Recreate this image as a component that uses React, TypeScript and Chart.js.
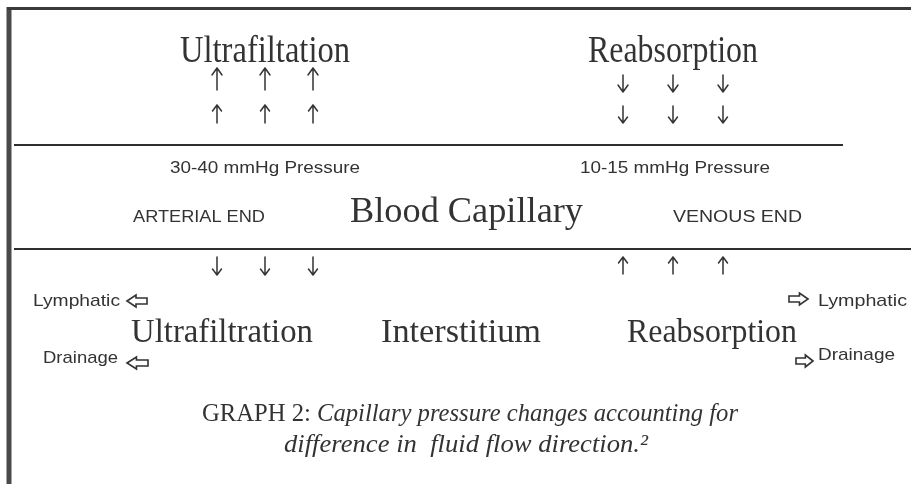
import React, { useEffect, useRef } from "react";
import Chart from "chart.js/auto";

// ---- content (values / texts) ----
const topHeadings = ["Ultrafiltation", "Reabsorption"];
const capillaryTitle = "Blood Capillary";
const pressureLabels = ["30-40 mmHg Pressure", "10-15 mmHg Pressure"];
const endLabels = ["ARTERIAL END", "VENOUS END"];
const bottomHeadings = ["Ultrafiltration", "Interstitium", "Reabsorption"];
const sideLabels = ["Lymphatic", "Drainage"];
const captionLead = "GRAPH 2: ";
const captionLine1 = "Capillary pressure changes accounting for";
const captionLine2 = "difference in  fluid flow direction.\u00B2";

// arrow columns (data-space x)
const arterialCols = [217, 265, 313];
const venousCols = [623, 673, 723];

// rules of the diagram (data-space)
const upperRule = [
  { x: 14, y: 145 },
  { x: 843, y: 145 },
];
const lowerRule = [
  { x: 14, y: 249 },
  { x: 911, y: 249 },
];
const topFrame = [
  { x: 7, y: 8.5 },
  { x: 911, y: 8.5 },
];
const leftFrame = [
  { x: 9, y: 7 },
  { x: 9, y: 484 },
];

// ---- layout ----
const SERIF = '"Liberation Serif", "Times New Roman", serif';
const SANS = '"Liberation Sans", Arial, sans-serif';
const INK = "#333333";

type Box = { x0: number; x1: number; base: number; size: number; fam: string; italic?: boolean };

const L = {
  topHeading: [
    { x0: 180, x1: 350, base: 62, size: 37, fam: SERIF },
    { x0: 588, x1: 758, base: 62, size: 37, fam: SERIF },
  ] as Box[],
  pressure: [
    { x0: 170, x1: 360, base: 173, size: 17, fam: SANS },
    { x0: 580, x1: 770, base: 173, size: 17, fam: SANS },
  ] as Box[],
  ends: [
    { x0: 133, x1: 265, base: 222, size: 16, fam: SANS },
    { x0: 673, x1: 802, base: 222, size: 16, fam: SANS },
  ] as Box[],
  capillary: { x0: 350, x1: 583, base: 222, size: 36, fam: SERIF } as Box,
  bottom: [
    { x0: 131, x1: 313, base: 342, size: 34, fam: SERIF },
    { x0: 381, x1: 541, base: 342, size: 34, fam: SERIF },
    { x0: 627, x1: 797, base: 342, size: 34, fam: SERIF },
  ] as Box[],
  sideLeft: [
    { x0: 33, x1: 120, base: 306, size: 17, fam: SANS },
    { x0: 43, x1: 118, base: 363, size: 17, fam: SANS },
  ] as Box[],
  sideRight: [
    { x0: 818, x1: 907, base: 306, size: 17, fam: SANS },
    { x0: 818, x1: 895, base: 360, size: 17, fam: SANS },
  ] as Box[],
  blockLeft: [
    { x0: 127, x1: 147, cy: 301, h: 12 },
    { x0: 127, x1: 148, cy: 363, h: 12 },
  ],
  blockRight: [
    { x0: 789, x1: 808, cy: 299, h: 12 },
    { x0: 796, x1: 813, cy: 361, h: 12 },
  ],
  caption1: { x0: 202, x1: 738, base: 421, size: 25 },
  caption2: { x0: 284, x1: 648, base: 452, size: 25 },
};

function drawFit(chart: any, text: string, b: Box) {
  const ctx = chart.ctx as CanvasRenderingContext2D;
  const xs = chart.scales.x;
  const ys = chart.scales.y;
  const px0 = xs.getPixelForValue(b.x0);
  const px1 = xs.getPixelForValue(b.x1);
  const py = ys.getPixelForValue(b.base);
  ctx.save();
  ctx.font = `${b.italic ? "italic " : ""}${b.size}px ${b.fam}`;
  ctx.fillStyle = INK;
  ctx.textAlign = "left";
  ctx.textBaseline = "alphabetic";
  const w = ctx.measureText(text).width;
  const sx = (px1 - px0) / w;
  ctx.translate(px0, py);
  ctx.scale(sx, 1);
  ctx.fillText(text, 0, 0);
  ctx.restore();
}

function drawCaption(chart: any, parts: { t: string; italic: boolean }[], b: any) {
  const ctx = chart.ctx as CanvasRenderingContext2D;
  const xs = chart.scales.x;
  const ys = chart.scales.y;
  const px0 = xs.getPixelForValue(b.x0);
  const px1 = xs.getPixelForValue(b.x1);
  const py = ys.getPixelForValue(b.base);
  ctx.save();
  ctx.fillStyle = INK;
  ctx.textAlign = "left";
  ctx.textBaseline = "alphabetic";
  let total = 0;
  const widths = parts.map((p) => {
    ctx.font = `${p.italic ? "italic " : ""}${b.size}px ${SERIF}`;
    const w = ctx.measureText(p.t).width;
    total += w;
    return w;
  });
  const sx = (px1 - px0) / total;
  ctx.translate(px0, py);
  ctx.scale(sx, 1);
  let x = 0;
  parts.forEach((p, i) => {
    ctx.font = `${p.italic ? "italic " : ""}${b.size}px ${SERIF}`;
    ctx.fillText(p.t, x, 0);
    x += widths[i];
  });
  ctx.restore();
}

function thinArrow(chart: any, x: number, yTail: number, yHead: number, half: number, hh: number) {
  const ctx = chart.ctx as CanvasRenderingContext2D;
  const xs = chart.scales.x;
  const ys = chart.scales.y;
  const px = xs.getPixelForValue(x);
  const pt = ys.getPixelForValue(yTail);
  const ph = ys.getPixelForValue(yHead);
  const dir = ph < pt ? 1 : -1; // head above tail => 1
  ctx.save();
  ctx.strokeStyle = INK;
  ctx.lineWidth = 1.5;
  ctx.lineCap = "round";
  ctx.lineJoin = "round";
  ctx.beginPath();
  ctx.moveTo(px, pt);
  ctx.lineTo(px, ph);
  ctx.moveTo(px - half, ph + dir * hh);
  ctx.lineTo(px, ph);
  ctx.lineTo(px + half, ph + dir * hh);
  ctx.stroke();
  ctx.restore();
}

function blockArrow(chart: any, a: { x0: number; x1: number; cy: number; h: number }, pointLeft: boolean) {
  const ctx = chart.ctx as CanvasRenderingContext2D;
  const xs = chart.scales.x;
  const ys = chart.scales.y;
  const x0 = xs.getPixelForValue(a.x0);
  const x1 = xs.getPixelForValue(a.x1);
  const cy = ys.getPixelForValue(a.cy);
  const h = a.h;
  const sh = h * 0.5;
  const w = x1 - x0;
  const hl = w * 0.45;
  ctx.save();
  ctx.strokeStyle = INK;
  ctx.lineWidth = 1.6;
  ctx.lineJoin = "miter";
  ctx.beginPath();
  if (pointLeft) {
    ctx.moveTo(x0, cy);
    ctx.lineTo(x0 + hl, cy - h / 2);
    ctx.lineTo(x0 + hl, cy - sh / 2);
    ctx.lineTo(x1, cy - sh / 2);
    ctx.lineTo(x1, cy + sh / 2);
    ctx.lineTo(x0 + hl, cy + sh / 2);
    ctx.lineTo(x0 + hl, cy + h / 2);
  } else {
    ctx.moveTo(x1, cy);
    ctx.lineTo(x1 - hl, cy - h / 2);
    ctx.lineTo(x1 - hl, cy - sh / 2);
    ctx.lineTo(x0, cy - sh / 2);
    ctx.lineTo(x0, cy + sh / 2);
    ctx.lineTo(x1 - hl, cy + sh / 2);
    ctx.lineTo(x1 - hl, cy + h / 2);
  }
  ctx.closePath();
  ctx.stroke();
  ctx.restore();
}

const bgPlugin = {
  id: "bg",
  beforeDraw(chart: any) {
    const ctx = chart.ctx;
    ctx.save();
    ctx.fillStyle = "#ffffff";
    ctx.fillRect(0, 0, chart.width, chart.height);
    ctx.restore();
  },
};

const diagramPlugin = {
  id: "diagram",
  afterDatasetsDraw(chart: any) {
    topHeadings.forEach((t, i) => drawFit(chart, t, L.topHeading[i]));
    pressureLabels.forEach((t, i) => drawFit(chart, t, L.pressure[i]));
    endLabels.forEach((t, i) => drawFit(chart, t, L.ends[i]));
    drawFit(chart, capillaryTitle, L.capillary);
    bottomHeadings.forEach((t, i) => drawFit(chart, t, L.bottom[i]));
    sideLabels.forEach((t, i) => drawFit(chart, t, L.sideLeft[i]));
    sideLabels.forEach((t, i) => drawFit(chart, t, L.sideRight[i]));
    L.blockLeft.forEach((a) => blockArrow(chart, a, true));
    L.blockRight.forEach((a) => blockArrow(chart, a, false));

    // upper ultrafiltration arrows (up)
    arterialCols.forEach((x) => {
      thinArrow(chart, x, 90, 68, 5, 7);
      thinArrow(chart, x, 123, 105, 4.5, 6);
    });
    // upper reabsorption arrows (down)
    venousCols.forEach((x) => {
      thinArrow(chart, x, 75, 92, 5, 7);
      thinArrow(chart, x, 106, 123, 4.5, 6);
    });
    // lower arrows
    arterialCols.forEach((x) => thinArrow(chart, x, 257, 275, 4.5, 6));
    venousCols.forEach((x) => thinArrow(chart, x, 274, 257, 4.5, 6));

    drawCaption(
      chart,
      [
        { t: captionLead, italic: false },
        { t: captionLine1, italic: true },
      ],
      L.caption1
    );
    drawCaption(chart, [{ t: captionLine2, italic: true }], L.caption2);
  },
};

export default function App() {
  const ref = useRef<HTMLCanvasElement | null>(null);
  useEffect(() => {
    if (!ref.current) return;
    const lineDs = (data: any[], width: number, color: string) => ({
      type: "line" as const,
      data,
      borderColor: color,
      borderWidth: width,
      pointRadius: 0,
      fill: false,
      tension: 0,
    });
    const chart = new Chart(ref.current, {
      type: "scatter",
      data: {
        datasets: [
          lineDs(topFrame, 3, "#3a3a3a"),
          lineDs(leftFrame, 5, "#4a4a4a"),
          lineDs(upperRule, 2, "#2e2e2e"),
          lineDs(lowerRule, 2, "#2e2e2e"),
        ] as any,
      },
      options: {
        animation: false,
        responsive: false,
        devicePixelRatio: 1,
        layout: { padding: 0 },
        plugins: { legend: { display: false }, tooltip: { enabled: false }, title: { display: false } },
        scales: {
          x: { type: "linear", min: 0, max: 911, display: false },
          y: { type: "linear", min: 0, max: 484, reverse: true, display: false },
        },
      },
      plugins: [bgPlugin, diagramPlugin],
    });
    return () => chart.destroy();
  }, []);
  return (
    <div style={{ position: "absolute", left: 0, top: 0, width: 911, height: 484 }}>
      <canvas ref={ref} width={911} height={484} style={{ width: 911, height: 484, display: "block" }} />
    </div>
  );
}
